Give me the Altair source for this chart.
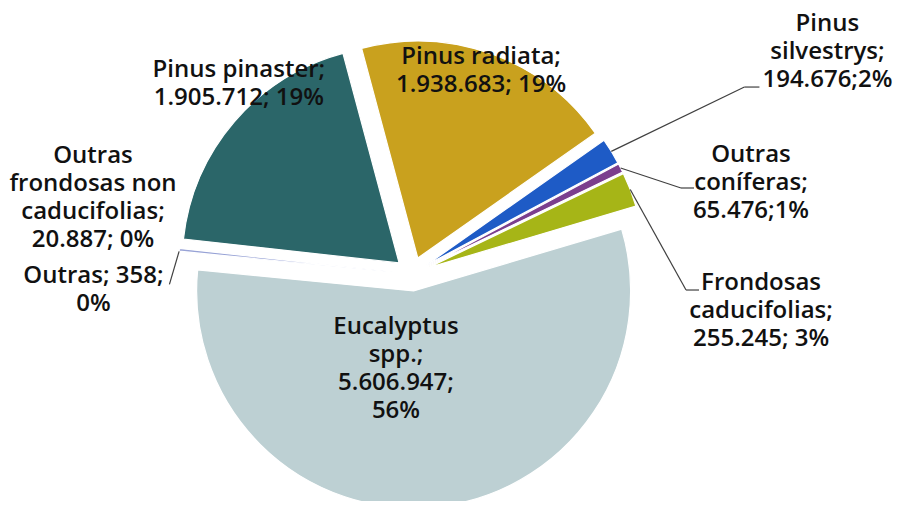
import math
import altair as alt
import pandas as pd

# ---- data ----
categories = [
    "Pinus radiata", "Pinus silvestrys", "Outras coníferas", "Frondosas caducifolias",
    "Eucalyptus spp.", "Outras", "Outras frondosas non caducifolias", "Pinus pinaster",
]
values = [1938683, 194676, 65476, 255245, 5606947, 358, 20887, 1905712]
colors = ["#C9A11E", "#1E5BC6", "#7B3E8E", "#A6B517", "#BDD0D3", "#5B86D0", "#98A3D6", "#2B6669"]

# label wrapping templates ({v} value, {p} percent)
label_templates = [
    "Pinus radiata;\n{v}; {p}%",
    "Pinus\nsilvestrys;\n{v};{p}%",
    "Outras\nconíferas;\n{v};{p}%",
    "Frondosas\ncaducifolias;\n{v}; {p}%",
    "Eucalyptus\nspp.;\n{v};\n{p}%",
    "Outras; {v};\n{p}%",
    "Outras\nfrondosas non\ncaducifolias;\n{v}; {p}%",
    "Pinus pinaster;\n{v}; {p}%",
]

# ---- layout (styles / placement, not data) ----
CX, CY = 404, 266          # pie centre in chart pixels
R = 217                    # outer radius
EXPLODE = 17               # explosion distance
START_DEG = -15            # first slice angle
LINE_H = 28
# label polar placement: radius from centre, angle nudge from slice middle (deg)
label_r = [214, 471, 351, 351, 96, 319, 328, 257]
label_dang = [-1.1, 3.5, 11.9, 27.2, 15.1, -8.5, 7.5, 7.0]
# leader lines: elbow offset from label centre, tail length
has_leader = [0, 1, 1, 1, 0, 1, 0, 0]
elbow_dx = [0, -83, -70, -75, 0, 76, 0, 0]
elbow_dy = [0, 35, 5, -21, 0, -6, 0, 0]
tail = [0, 15, 13, 13, 0, 0, 0, 0]

total = sum(values)


def fmt(v):
    return f"{v:,}".replace(",", ".")


labels = [t.format(v=fmt(v), p=round(100 * v / total)) for t, v in zip(label_templates, values)]

df = pd.DataFrame({
    "idx": list(range(len(categories))),
    "cat": categories,
    "value": values,
    "label": labels,
    "nlines": [lab.count("\n") + 1 for lab in labels],
    "lr": label_r,
    "dang": label_dang,
    "leader": has_leader,
    "edx": elbow_dx,
    "edy": elbow_dy,
    "tail": tail,
})

off = START_DEG * math.pi / 180

base = alt.Chart(df).transform_joinaggregate(
    total="sum(value)"
).transform_window(
    cum="sum(value)", sort=[alt.SortField("idx")], frame=[None, 0]
).transform_calculate(
    t1=f"{off} + 2*PI*datum.cum/datum.total",
    t0=f"{off} + 2*PI*(datum.cum - datum.value)/datum.total",
).transform_calculate(
    mid="(datum.t0 + datum.t1)/2",
).transform_calculate(
    ax=f"{CX} + {EXPLODE}*sin(datum.mid)",
    ay=f"{CY} - {EXPLODE}*cos(datum.mid)",
    la="datum.mid + datum.dang*PI/180",
).transform_calculate(
    rx=f"datum.ax + {R}*sin(datum.mid)",
    ry=f"datum.ay - {R}*cos(datum.mid)",
    lx=f"{CX} + datum.lr*sin(datum.la)",
    ly=f"{CY} - datum.lr*cos(datum.la)",
).transform_calculate(
    ex="datum.lx + datum.edx",
    ey="datum.ly + datum.edy",
    ly1=f"datum.ly - (datum.nlines - 1)*{LINE_H}/2",
).transform_calculate(
    tx="datum.ex + datum.tail",
)

arcs = base.mark_arc(outerRadius=R, stroke="white", strokeWidth=1.2).encode(
    x=alt.X("ax:Q", scale=None),
    y=alt.Y("ay:Q", scale=None),
    theta=alt.Theta("t0:Q", scale=None, stack=None),
    theta2="t1:Q",
    color=alt.Color("cat:N", scale=alt.Scale(domain=categories, range=colors), legend=None),
)

lead1 = base.transform_filter("datum.leader == 1").mark_rule(color="#404040", strokeWidth=1.2).encode(
    x=alt.X("rx:Q", scale=None), y=alt.Y("ry:Q", scale=None), x2="ex:Q", y2="ey:Q",
)
lead2 = base.transform_filter("datum.leader == 1 && datum.tail > 0").mark_rule(color="#404040", strokeWidth=1.2).encode(
    x=alt.X("ex:Q", scale=None), y=alt.Y("ey:Q", scale=None), x2="tx:Q", y2="ey:Q",
)

text = base.mark_text(
    font="Open Sans", fontWeight=600, fontSize=24, lineHeight=LINE_H,
    align="center", baseline="middle", lineBreak="\n", color="#111111",
).encode(
    x=alt.X("lx:Q", scale=None),
    y=alt.Y("ly1:Q", scale=None),
    text="label:N",
)

chart = alt.layer(arcs, lead1, lead2, text).properties(
    width=885, height=493, padding=0, autosize=alt.AutoSizeParams(type="none"),
).configure_view(stroke=None)

chart.save("out.html", embed_options={"renderer": "svg", "actions": False})
